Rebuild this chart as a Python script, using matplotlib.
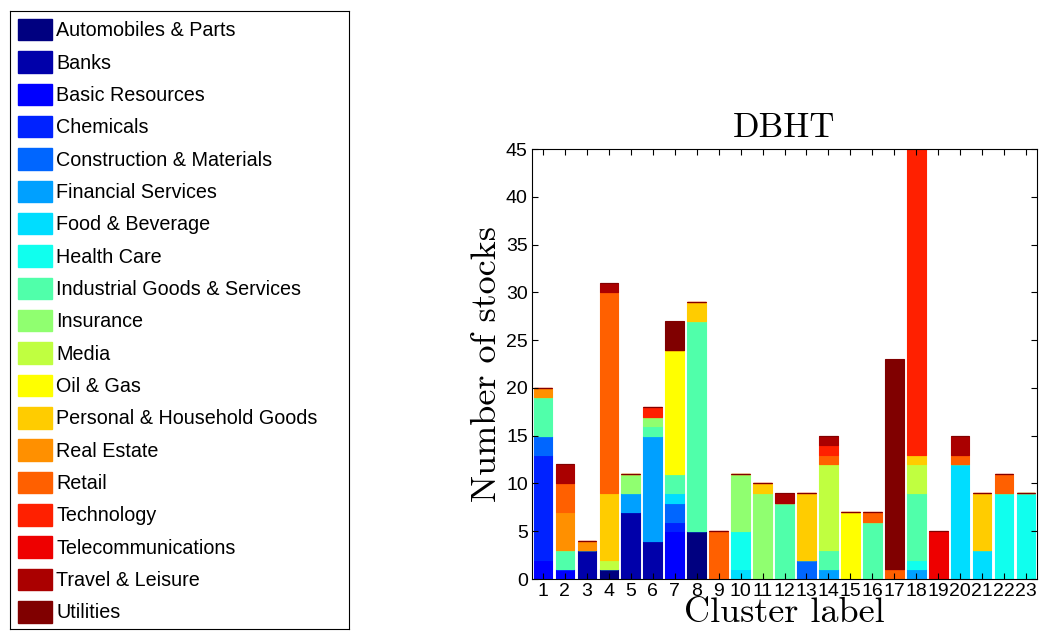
import numpy as np
import matplotlib
matplotlib.use("Agg")
import matplotlib.pyplot as plt
from matplotlib.patches import Patch

# cluster labels 1..23
clusters = np.arange(1, 24)

sectors = ["Automobiles & Parts", "Banks", "Basic Resources", "Chemicals",
           "Construction & Materials", "Financial Services", "Food & Beverage",
           "Health Care", "Industrial Goods & Services", "Insurance", "Media",
           "Oil & Gas", "Personal & Household Goods", "Real Estate", "Retail",
           "Technology", "Telecommunications", "Travel & Leisure", "Utilities"]

# stocks per sector in each cluster
#            1  2  3  4  5  6  7  8  9 10 11 12 13 14 15 16 17 18 19 20 21 22 23
auto     = [0, 0, 0, 1, 0, 0, 0, 5, 0, 0, 0, 0, 0, 0, 0, 0, 0, 0, 0, 0, 0, 0, 0]
banks    = [0, 0, 3, 0, 7, 4, 0, 0, 0, 0, 0, 0, 0, 0, 0, 0, 0, 0, 0, 0, 0, 0, 0]
basic    = [2, 1, 0, 0, 0, 0, 5, 0, 0, 0, 0, 0, 0, 0, 0, 0, 0, 0, 0, 0, 0, 0, 0]
chem     = [11, 0, 0, 0, 0, 0, 1, 0, 0, 0, 0, 0, 0, 0, 0, 0, 0, 0, 0, 0, 0, 0, 0]
constr   = [2, 0, 0, 0, 0, 0, 2, 0, 0, 0, 0, 0, 2, 0, 0, 0, 0, 0, 0, 0, 0, 0, 0]
finserv  = [0, 0, 0, 0, 2, 11, 0, 0, 0, 0, 0, 0, 0, 1, 0, 0, 0, 1, 0, 0, 0, 0, 0]
food     = [0, 0, 0, 0, 0, 0, 1, 0, 0, 1, 0, 0, 0, 0, 0, 0, 0, 0, 0, 12, 3, 0, 0]
health   = [0, 0, 0, 0, 0, 0, 0, 0, 0, 4, 0, 0, 0, 0, 0, 0, 0, 1, 0, 0, 0, 9, 9]
indus    = [4, 2, 0, 0, 0, 1, 2, 22, 0, 0, 0, 8, 0, 2, 0, 6, 0, 7, 0, 0, 0, 0, 0]
insur    = [0, 0, 0, 0, 2, 1, 0, 0, 0, 6, 9, 0, 0, 0, 0, 0, 0, 0, 0, 0, 0, 0, 0]
media    = [0, 0, 0, 1, 0, 0, 0, 0, 0, 0, 0, 0, 0, 9, 0, 0, 0, 3, 0, 0, 0, 0, 0]
oilgas   = [0, 0, 0, 0, 0, 0, 13, 0, 0, 0, 0, 0, 0, 0, 7, 0, 0, 0, 0, 0, 0, 0, 0]
personal = [0, 0, 0, 7, 0, 0, 0, 2, 0, 0, 1, 0, 7, 0, 0, 0, 0, 1, 0, 0, 6, 0, 0]
realest  = [1, 4, 1, 0, 0, 0, 0, 0, 0, 0, 0, 0, 0, 0, 0, 0, 0, 0, 0, 0, 0, 0, 0]
retail   = [0, 3, 0, 21, 0, 0, 0, 0, 5, 0, 0, 0, 0, 1, 0, 1, 1, 0, 0, 1, 0, 2, 0]
tech     = [0, 0, 0, 0, 0, 1, 0, 0, 0, 0, 0, 0, 0, 1, 0, 0, 0, 33, 0, 0, 0, 0, 0]
telecom  = [0, 0, 0, 0, 0, 0, 0, 0, 0, 0, 0, 0, 0, 0, 0, 0, 0, 0, 5, 0, 0, 0, 0]
travel   = [0, 2, 0, 1, 0, 0, 0, 0, 0, 0, 0, 1, 0, 1, 0, 0, 0, 0, 0, 2, 0, 0, 0]
util     = [0, 0, 0, 0, 0, 0, 3, 0, 0, 0, 0, 0, 0, 0, 0, 0, 22, 0, 0, 0, 0, 0, 0]

colors = ["#000080", "#0000AA", "#0000FF", "#0022FF", "#0066FF", "#00A0FF",
          "#00DDFF", "#10FFEE", "#50FFAA", "#90FF70", "#C0FF40", "#FFFF00",
          "#FFCC00", "#FF9000", "#FF6000", "#FF2000", "#EE0000", "#AA0000",
          "#800000"]

counts = np.array([auto, banks, basic, chem, constr, finserv, food, health,
                   indus, insur, media, oilgas, personal, realest, retail,
                   tech, telecom, travel, util])

W, H = 1039, 631
fig = plt.figure(figsize=(W/100, H/100), dpi=100)

ax = fig.add_axes([532/W, 1 - 579/H, (1037 - 532)/W, (579 - 149)/H])

# stacked bars
bottom = np.zeros(len(clusters))
for k in range(len(sectors)):
    ax.bar(clusters, counts[k], 0.85, bottom=bottom, color=colors[k],
           edgecolor=colors[k], lw=0.8)
    bottom = bottom + counts[k]

ax.set_xlim(0.5, 23.5)
ax.set_ylim(0, 45)
ax.set_xticks(clusters)
ax.set_yticks(np.arange(0, 46, 5))
ax.tick_params(direction="in", top=True, right=True, length=4,
               labelsize=14, pad=3)
for lab in ax.get_xticklabels() + ax.get_yticklabels():
    lab.set_family("Liberation Sans")

ax.set_title("DBHT", family="cmr10", fontsize=25, pad=9)
ax.set_xlabel("Cluster label", family="cmr10", fontsize=26, labelpad=-2)
ax.set_ylabel("Number of stocks", family="cmr10", fontsize=26, labelpad=2)

# legend in its own box on the left
lax = fig.add_axes([10/W, 1 - 629/H, (349 - 10)/W, (629 - 11)/H])
lax.set_xticks([])
lax.set_yticks([])
handles = [Patch(facecolor=c, edgecolor=c) for c in colors]
lax.legend(handles, sectors, loc="upper left", frameon=False,
           prop={"family": "Liberation Sans", "size": 14.2},
           handlelength=1.75, handleheight=1.3, handletextpad=0.2,
           labelspacing=0.55, borderpad=0.3, borderaxespad=0.1)

fig.savefig("out.png", dpi=100)
